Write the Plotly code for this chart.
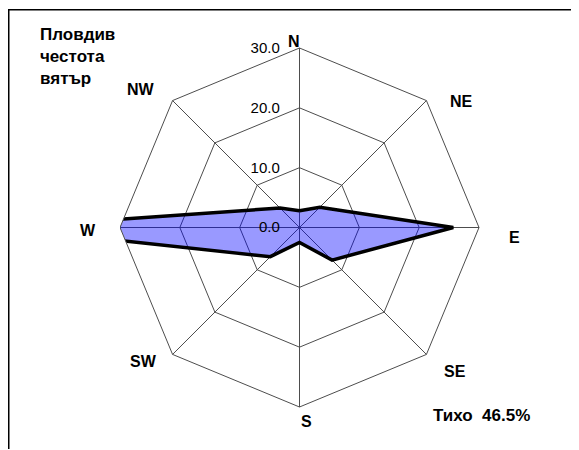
import plotly.graph_objects as go

# ---- data ----
directions = ["N", "NE", "E", "SE", "S", "SW", "W", "NW"]
frequency = [2.8, 4.8, 25.7, 7.7, 2.5, 6.9, 50.0, 4.6]
radial_ticks = [0, 10, 20, 30]
title_lines = ["Пловдив", "честота", "вятър"]
calm_label = "Тихо"
calm_value = 46.5

# ---- layout constants (page pixels; the page body has an 8px margin) ----
OFF = 8
W, H = 579 - OFF, 450 - OFF
CX, CY, R = 299.5, 227.5, 179.5
FONT = "Arial, Liberation Sans, sans-serif"


def px(x):
    return (x - OFF) / W


def py(y):
    return 1 - (y - OFF) / H


dom_x = [px(CX - R), px(CX + R)]
dom_y = [py(CY + R), py(CY - R)]

fig = go.Figure()
fig.add_trace(go.Scatterpolar(
    r=frequency + frequency[:1],
    theta=directions + directions[:1],
    mode="lines",
    fill="toself",
    fillcolor="rgba(0,0,255,0.4)",
    line=dict(color="black", width=3.5),
    cliponaxis=False,
    hoverinfo="skip",
    showlegend=False,
))

# label positions for direction names (page pixel centres)
label_pos = {
    "N": (294, 42), "NE": (461, 101), "E": (514, 237), "SE": (455, 371),
    "S": (306, 421), "SW": (143, 361), "W": (88, 230), "NW": (141, 89),
}
annotations = []
for d in directions:
    x, y = label_pos[d]
    annotations.append(dict(
        text=f"<b>{d}</b>", x=px(x), y=py(y), xref="paper", yref="paper",
        xanchor="center", yanchor="middle", showarrow=False,
        font=dict(family=FONT, size=16, color="black"),
    ))
annotations.append(dict(
    text="<b>" + "<br>".join(title_lines) + "</b>", x=px(38), y=py(23),
    xref="paper", yref="paper", xanchor="left", yanchor="top", align="left",
    showarrow=False, font=dict(family=FONT, size=17, color="black"),
))
annotations.append(dict(
    text=f"<b>{calm_label}\u00a0\u00a0{calm_value:.1f}%</b>", x=px(431), y=py(415),
    xref="paper", yref="paper", xanchor="left", yanchor="middle",
    showarrow=False, font=dict(family=FONT, size=17, color="black"),
))

shapes = [
    # mask emulating rectangular plot-area clipping on the left
    dict(type="rect", xref="paper", yref="paper", x0=px(9.5), x1=dom_x[0],
         y0=py(CY + 40), y1=py(CY - 40), fillcolor="white", line=dict(width=0),
         layer="above"),
    # chart frame
    dict(type="line", xref="paper", yref="paper", x0=px(8.75), x1=px(8.75),
         y0=py(449), y1=py(9.5), line=dict(color="black", width=1.5), layer="above"),
    dict(type="line", xref="paper", yref="paper", x0=px(8), x1=px(579),
         y0=py(9.75), y1=py(9.75), line=dict(color="black", width=1.5), layer="above"),
]

fig.update_layout(
    width=W, height=H,
    margin=dict(l=0, r=0, t=0, b=0),
    paper_bgcolor="white",
    plot_bgcolor="white",
    font=dict(family=FONT, color="black"),
    polar=dict(
        domain=dict(x=dom_x, y=dom_y),
        bgcolor="white",
        gridshape="linear",
        radialaxis=dict(
            range=[0, 30], tickvals=radial_ticks, tickformat=".1f",
            angle=90, side="counterclockwise", tickangle=90,
            showline=False, ticks="outside", ticklen=14,
            tickcolor="rgba(0,0,0,0)",
            gridcolor="#4d4d4d", gridwidth=1,
            tickfont=dict(family=FONT, size=15, color="black"),
            layer="above traces",
        ),
        angularaxis=dict(
            categoryarray=directions, categoryorder="array",
            rotation=90, direction="clockwise",
            showticklabels=False, ticks="",
            showline=True, linecolor="#4d4d4d", linewidth=1,
            gridcolor="#4d4d4d", gridwidth=1,
        ),
    ),
    annotations=annotations,
    shapes=shapes,
)

fig.write_html("out.html")
